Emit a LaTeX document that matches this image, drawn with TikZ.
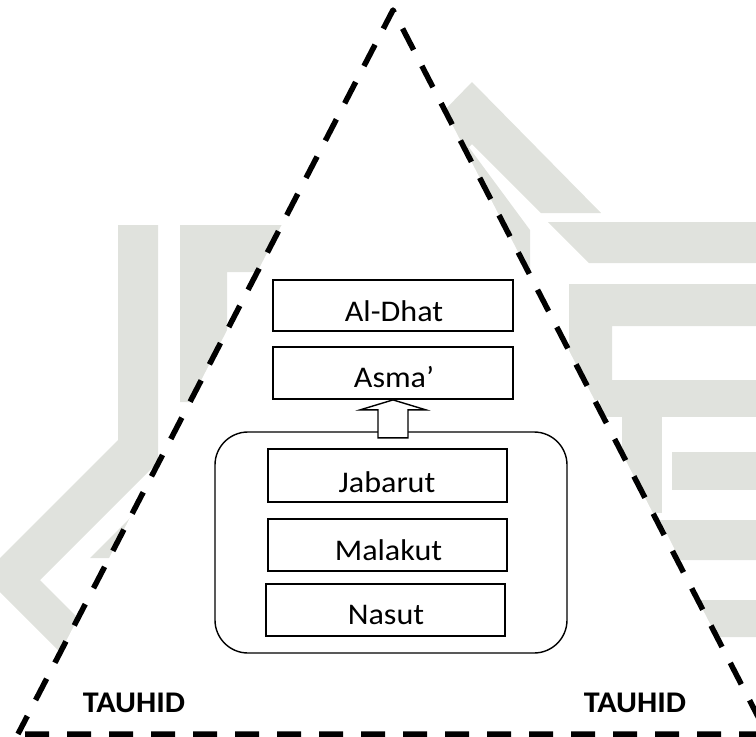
\documentclass[tikz,border=0pt]{standalone}
\usepackage{fontspec}
\setmainfont[FakeStretch=1.07]{Carlito}
\definecolor{wm}{RGB}{224,226,221}
\tikzset{
  wmark/.style={fill=wm, draw=none},
  tri/.style={draw=black, line width=5.5pt, dash pattern=on 24pt off 18pt, dash phase=35pt, fill=white, line join=round},
  levelbox/.style={draw=black, line width=1.8pt, fill=white, rectangle, inner sep=0pt},
  groupbox/.style={draw=black, line width=1.4pt, rounded corners=33pt, fill=white, rectangle, inner sep=0pt},
  blockarrow/.style={draw=black, line width=1.4pt, fill=white, line join=miter},
  lbl/.style={font=\fontsize{30}{36}\selectfont, anchor=base, inner sep=0pt},
  tauhid/.style={font=\bfseries\fontsize{30}{36}\selectfont, anchor=base, inner sep=0pt},
}
\begin{document}
\begin{tikzpicture}[x=1pt,y=-1pt]
\useasboundingbox (0,0) rectangle (756,737);
% watermark (left)
\fill[wmark] (118,225) -- (158,225) -- (158,462) -- (40,580) -- (120,660) -- (100,692) -- (-17,575) -- (118,440) -- cycle;
\fill[wmark] (90,558) -- (140,508) -- (170,508) -- (170,558) -- cycle;
\fill[wmark] (180,225) -- (300,225) -- (300,272) -- (227,272) -- (227,402) -- (180,402) -- cycle;
% watermark (right)
\fill[wmark] (472,82) -- (601,213) -- (541,213) -- (472,144) -- (430,186) -- (400,156) -- cycle;
\fill[wmark] (465,142) -- (530,230) -- (530,430) -- (450,430) -- (450,150) -- cycle;
\fill[wmark] (548,222) -- (756,222) -- (756,263) -- (589,263) -- cycle;
\fill[wmark] (569,284) -- (756,284) -- (756,326) -- (612,326) -- (612,400) -- (569,400) -- cycle;
\fill[wmark] (600,380) -- (756,380) -- (756,417) -- (600,417) -- cycle;
\fill[wmark] (622,380) -- (662,380) -- (662,513) -- (622,513) -- cycle;
\fill[wmark] (672,452) -- (756,452) -- (756,490) -- (672,490) -- cycle;
\fill[wmark] (660,520) -- (756,520) -- (756,560) -- (680,560) -- cycle;
\fill[wmark] (697,600) -- (756,600) -- (756,637) -- (714,637) -- cycle;
% dashed triangle
\coordinate (bl) at (18,734);
\coordinate (br) at (767,734);
\coordinate (apex) at (393,10);
\draw[tri] (bl) -- (br) -- (apex) -- cycle;
% grouping box
\node[groupbox, minimum width=352pt, minimum height=221pt] (grp) at (391,542.5) {};
% level boxes
\node[levelbox, minimum width=240pt, minimum height=51pt] (dhat) at (393,305.5) {};
\node[levelbox, minimum width=240pt, minimum height=52pt] (asma) at (393,373) {};
\node[levelbox, minimum width=239pt, minimum height=53pt] (jab) at (387.5,475.5) {};
\node[levelbox, minimum width=239pt, minimum height=52pt] (mal) at (387.5,545) {};
\node[levelbox, minimum width=239pt, minimum height=52pt] (nas) at (385.5,610) {};
% block arrow from group to Asma'
\coordinate (tip) at (asma.south);
\draw[blockarrow] (tip) -- ++(33,10) -- ++(-18,0) -- ++(0,28) -- ++(-30,0) -- ++(0,-28) -- ++(-18,0) -- cycle;
% labels
\node[lbl] (tdhat) at (394,321) {Al-Dhat};
\node[lbl] (tasma) at (394,387) {Asma’};
\node[lbl] (tjab) at (387,492) {Jabarut};
\node[lbl] (tmal) at (388.5,560) {Malakut};
\node[lbl] (tnas) at (386,624) {Nasut};
\node[tauhid] (t1) at (134,712) {TAUHID};
\node[tauhid] (t2) at (635,712) {TAUHID};
\end{tikzpicture}
\end{document}
